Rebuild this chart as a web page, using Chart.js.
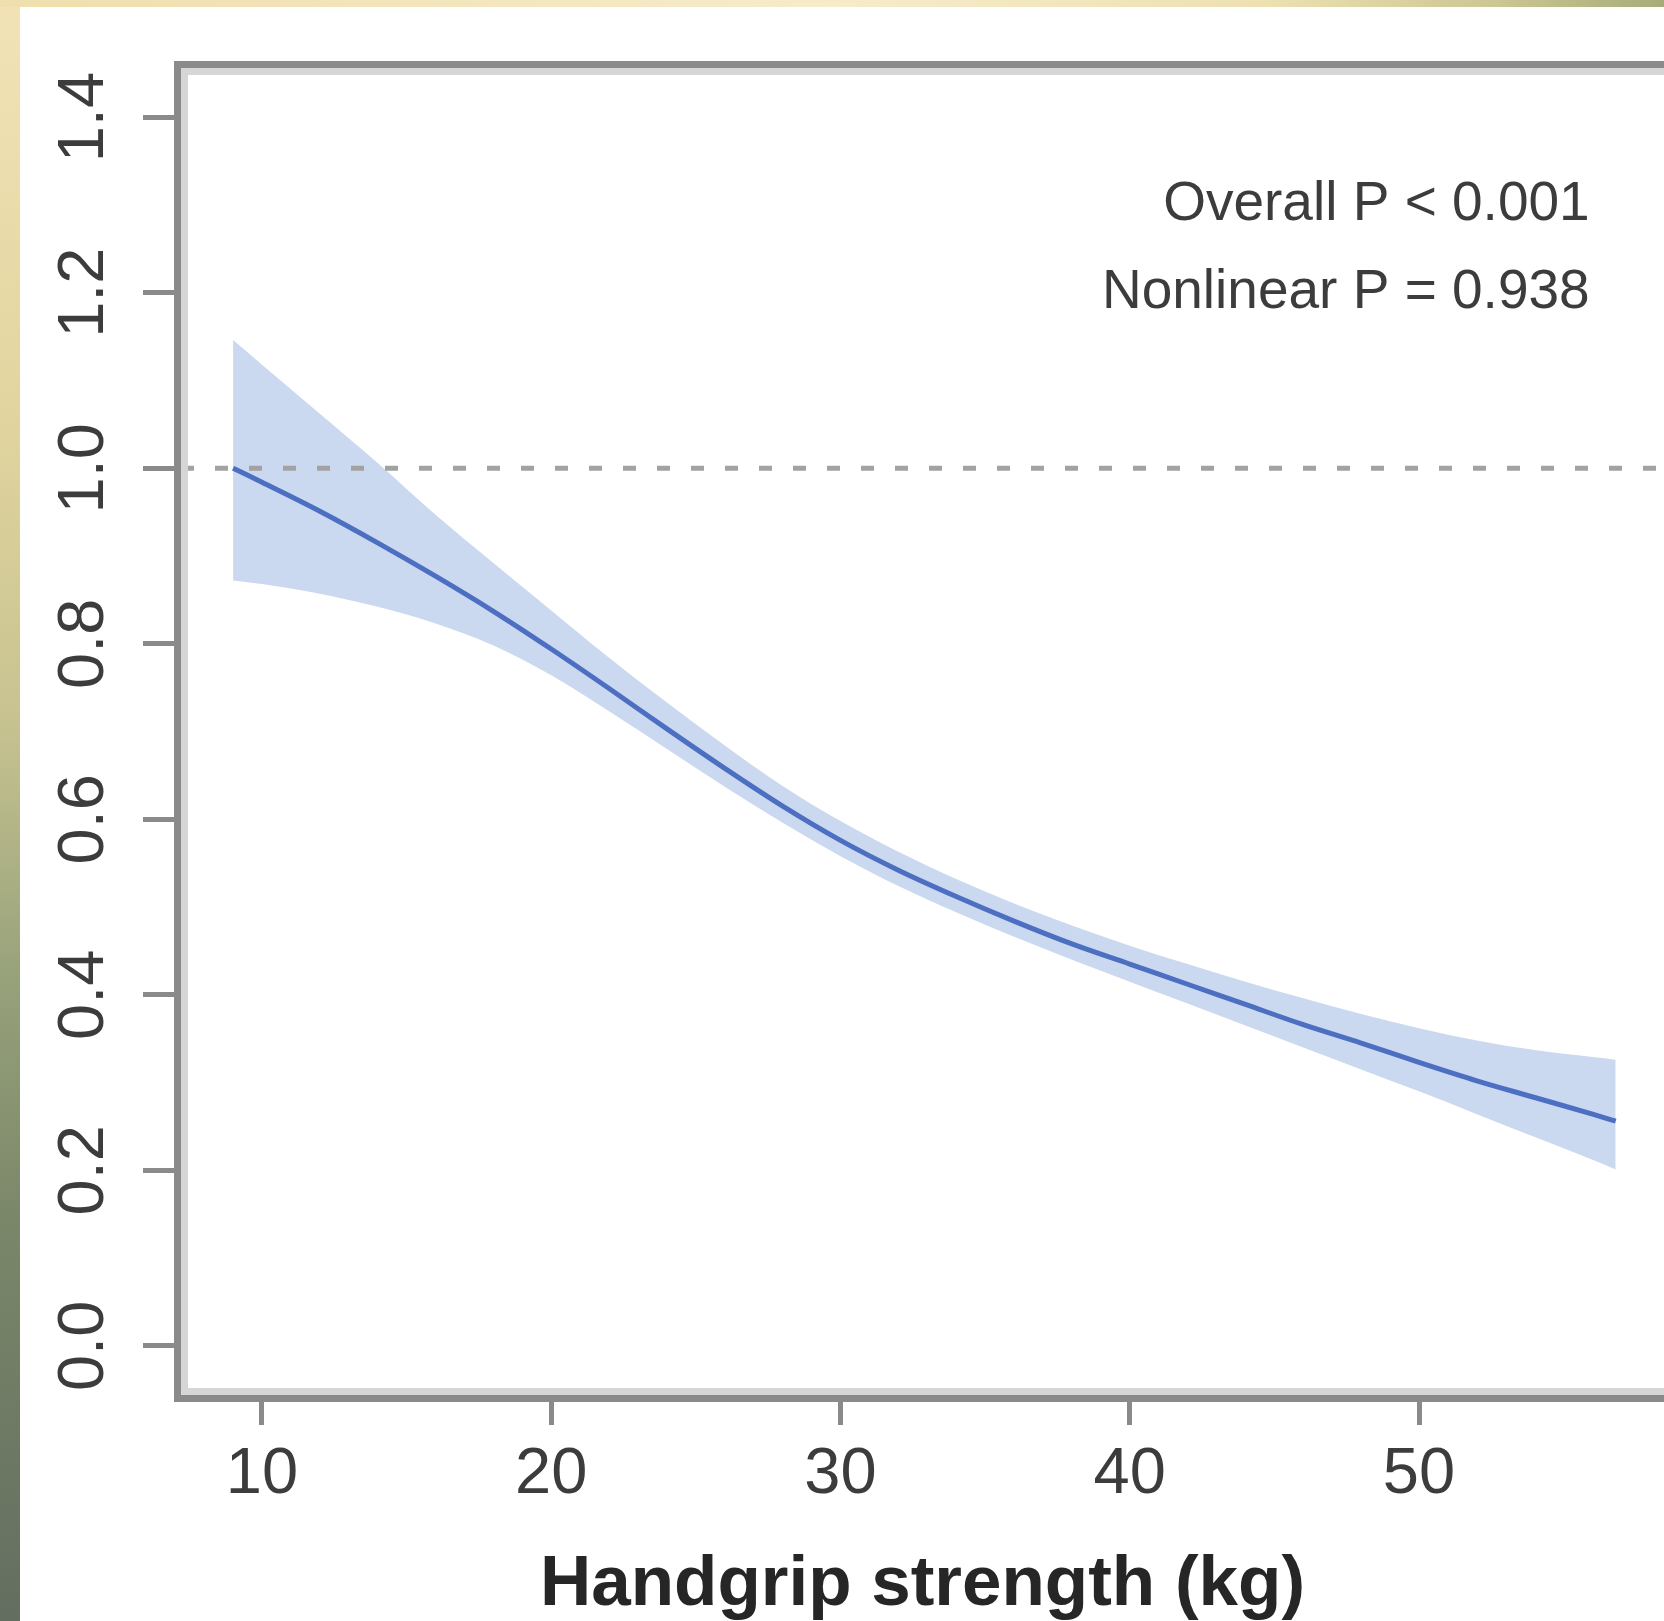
<!DOCTYPE html>
<html lang="en">
<head>
    <meta charset="UTF-8">
    <title>Handgrip strength - restricted cubic spline</title>
    <script src="https://cdn.jsdelivr.net/npm/chart.js"></script>
    <style>
        html, body {
            margin: 0;
            padding: 0;
            width: 1664px;
            height: 1621px;
            overflow: hidden;
            background: #ffffff;
        }

        .strip-left {
            position: absolute;
            left: 0;
            top: 0;
            width: 20px;
            height: 1621px;
            background: linear-gradient(to bottom, #f1e3b6 0%, #e3d5a0 25%, #c6c290 45%, #98a27b 60%, #7b8769 75%, #636e60 100%);
        }

        .strip-top {
            position: absolute;
            left: 0;
            top: 0;
            width: 1664px;
            height: 7px;
            background: linear-gradient(to right, #efdfae 0%, #f6ecca 50%, #ede1b2 76%, #cbc693 90%, #a6ac78 100%);
        }

        #chart {
            position: absolute;
            left: 0;
            top: 0;
        }
    </style>
</head>
<body>
    <div class="strip-left"></div>
    <div class="strip-top"></div>
    <canvas id="chart" width="1664" height="1621"></canvas>

    <script>
        // Handgrip strength (kg) and the hazard ratio with its 95% band
        const grip = [9, 10, 12, 14, 16, 18, 20, 22, 24, 26, 28, 30, 32, 34, 36, 38, 40, 42, 44, 46, 48, 50, 52, 54, 56, 56.8];
        const hr = [1.000, 0.984, 0.951, 0.915, 0.877, 0.837, 0.794, 0.749, 0.703, 0.658, 0.615, 0.576, 0.542, 0.512, 0.484, 0.458, 0.435, 0.412, 0.389, 0.366, 0.345, 0.323, 0.302, 0.283, 0.264, 0.256];
        const ciUpper = [1.146, 1.118, 1.062, 1.006, 0.947, 0.892, 0.838, 0.784, 0.733, 0.684, 0.638, 0.598, 0.563, 0.532, 0.504, 0.479, 0.456, 0.435, 0.415, 0.396, 0.378, 0.362, 0.348, 0.337, 0.329, 0.326];
        const ciLower = [0.872, 0.868, 0.857, 0.842, 0.823, 0.798, 0.764, 0.723, 0.680, 0.637, 0.596, 0.558, 0.524, 0.494, 0.466, 0.440, 0.415, 0.390, 0.365, 0.340, 0.315, 0.290, 0.264, 0.238, 0.212, 0.201];

        const refHR = 1.0;
        const xTicks = [10, 20, 30, 40, 50];
        const yTicks = [0.0, 0.2, 0.4, 0.6, 0.8, 1.0, 1.2, 1.4];
        const xRange = [7.2, 58.47];
        const yRange = [-0.056, 1.456];

        const pText = ["Overall P < 0.001", "Nonlinear P = 0.938"];
        const pTextX = 55.9;
        const pTextY = [1.3, 1.2];

        const xTitle = "Handgrip strength (kg)";

        const FONT = '"Liberation Sans", Arial, Helvetica, sans-serif';
        const GREY = "#8a8a8a";

        const pts = (ys) => grip.map((g, i) => ({ x: g, y: ys[i] }));

        // box around the plot region, like R's box()
        const framePlugin = {
            id: "frame",
            afterDatasetsDraw(chart) {
                const a = chart.chartArea;
                const ctx = chart.ctx;
                ctx.save();
                ctx.strokeStyle = "#d6d6d6";
                ctx.lineWidth = 7;
                ctx.strokeRect(a.left + 3.5, a.top + 3.5, a.right - a.left + 20, a.bottom - a.top - 7);
                ctx.strokeStyle = GREY;
                ctx.lineWidth = 7;
                ctx.strokeRect(a.left - 3.5, a.top - 3.5, a.right - a.left + 30, a.bottom - a.top + 7);
                ctx.restore();
            }
        };

        // P value text in the top right
        const pTextPlugin = {
            id: "ptext",
            afterDraw(chart) {
                const ctx = chart.ctx;
                const xs = chart.scales.x;
                const ys = chart.scales.y;
                ctx.save();
                ctx.font = "55px " + FONT;
                ctx.fillStyle = "#3c3c3c";
                ctx.textAlign = "right";
                ctx.textBaseline = "middle";
                pText.forEach((t, i) => {
                    ctx.fillText(t, xs.getPixelForValue(pTextX), ys.getPixelForValue(pTextY[i]));
                });
                ctx.restore();
            }
        };

        new Chart(document.getElementById("chart"), {
            type: "line",
            data: {
                datasets: [
                    {
                        label: "upper",
                        data: pts(ciUpper),
                        borderWidth: 0,
                        pointRadius: 0,
                        backgroundColor: "#cad9f0",
                        fill: "+1",
                        cubicInterpolationMode: "monotone",
                        order: 2
                    },
                    {
                        label: "lower",
                        data: pts(ciLower),
                        borderWidth: 0,
                        pointRadius: 0,
                        fill: false,
                        cubicInterpolationMode: "monotone",
                        order: 2
                    },
                    {
                        label: "reference",
                        data: [{ x: xRange[0], y: refHR }, { x: xRange[1], y: refHR }],
                        borderColor: "#a2a2a2",
                        borderWidth: 5,
                        borderDash: [13, 21],
                        pointRadius: 0,
                        fill: false,
                        order: 1
                    },
                    {
                        label: "HR",
                        data: pts(hr),
                        borderColor: "#4d6fc2",
                        borderWidth: 5,
                        pointRadius: 0,
                        fill: false,
                        cubicInterpolationMode: "monotone",
                        order: 0
                    }
                ]
            },
            options: {
                responsive: false,
                devicePixelRatio: 1,
                animation: false,
                layout: { padding: { top: 68, left: 0, right: 0, bottom: 0 } },
                plugins: {
                    legend: { display: false },
                    tooltip: { enabled: false }
                },
                scales: {
                    x: {
                        type: "linear",
                        min: xRange[0],
                        max: xRange[1],
                        afterBuildTicks: (s) => { s.ticks = xTicks.map(v => ({ value: v })); },
                        afterFit: (s) => { s.height = 226; },
                        grid: {
                            drawOnChartArea: false,
                            drawTicks: true,
                            tickLength: 30,
                            tickWidth: 5,
                            tickColor: GREY
                        },
                        border: { display: false },
                        ticks: {
                            autoSkip: false,
                            maxRotation: 0,
                            padding: 11,
                            color: "#3c3c3c",
                            font: { family: FONT, size: 65 },
                            callback: (v) => String(v)
                        },
                        title: {
                            display: true,
                            text: xTitle,
                            color: "#262626",
                            font: { family: FONT, size: 71, weight: "bold", lineHeight: 1 },
                            padding: { top: 0, bottom: 0 }
                        }
                    },
                    y: {
                        type: "linear",
                        min: yRange[0],
                        max: yRange[1],
                        afterBuildTicks: (s) => { s.ticks = yTicks.map(v => ({ value: v })); },
                        afterFit: (s) => { s.width = 181; },
                        grid: {
                            drawOnChartArea: false,
                            drawTicks: true,
                            tickLength: 38,
                            tickWidth: 5,
                            tickColor: GREY
                        },
                        border: { display: false },
                        ticks: {
                            autoSkip: false,
                            minRotation: 90,
                            maxRotation: 90,
                            crossAlign: "center",
                            padding: 13,
                            color: "#3c3c3c",
                            font: { family: FONT, size: 65 },
                            callback: (v) => v.toFixed(1)
                        }
                    }
                }
            },
            plugins: [framePlugin, pTextPlugin]
        });
    </script>
</body>
</html>
